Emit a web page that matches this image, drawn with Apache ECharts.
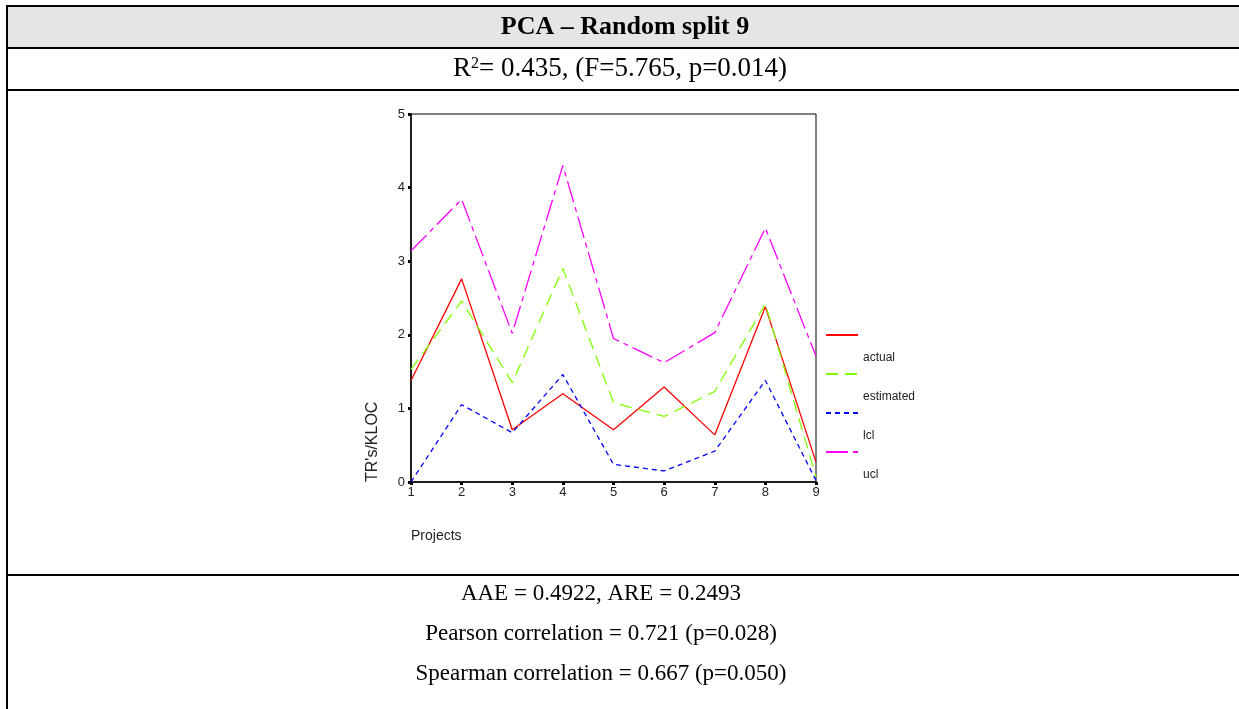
<!DOCTYPE html>
<html>
<head>
<meta charset="utf-8">
<script src="https://cdn.jsdelivr.net/npm/echarts@6/dist/echarts.min.js"></script>
<style>
html, body { margin: 0; padding: 0; background: #fff; }
#main { width: 1239px; height: 709px; }
</style>
</head>
<body>
<div id="main"></div>
<script>
// data
var projects = ['1', '2', '3', '4', '5', '6', '7', '8', '9'];
var actual    = [1.38, 2.76, 0.71, 1.20, 0.71, 1.29, 0.64, 2.38, 0.27];
var estimated = [1.53, 2.46, 1.35, 2.90, 1.08, 0.89, 1.23, 2.42, 0.07];
var lcl       = [0.00, 1.05, 0.67, 1.46, 0.24, 0.15, 0.42, 1.38, 0.02];
var ucl       = [3.14, 3.84, 2.02, 4.30, 1.95, 1.62, 2.03, 3.45, 1.71];
var seriesNames = ['actual', 'estimated', 'lcl', 'ucl'];
var yTicks = [0, 1, 2, 3, 4, 5];

var myChart = echarts.init(document.getElementById('main'));

var serif = '"Liberation Serif", "Times New Roman", serif';
var sans = '"Liberation Sans", Arial, sans-serif';

function hline(y) {
    return { type: 'line', shape: { x1: 6, y1: y, x2: 1239, y2: y }, style: { stroke: '#000', lineWidth: 2 } };
}
function centerText(txt, x, y, font) {
    return { type: 'text', x: x, y: y, style: { text: txt, font: font, fill: '#000', textAlign: 'center', textVerticalAlign: 'middle' } };
}

// one legend per series: line on top, name underneath
var legendIconY = [336, 375, 414, 453];
var legends = seriesNames.map(function (name, i) {
    return {
        orient: 'vertical',
        left: 825,
        top: legendIconY[i] - 47,
        padding: 0,
        itemWidth: 32,
        itemHeight: 2,
        itemStyle: { opacity: 0 },
        formatter: '\n{name}',
        textStyle: { fontFamily: sans, fontSize: 12, color: '#222', lineHeight: 46 },
        selectedMode: false,
        data: [name]
    };
});

var option = {
    animation: false,
    backgroundColor: '#fff',
    graphic: [
        { type: 'rect', shape: { x: 7, y: 6, width: 1232, height: 41 }, style: { fill: '#e5e5e5' }, z: -1 },
        hline(6), hline(48), hline(90), hline(575),
        { type: 'line', shape: { x1: 7, y1: 5, x2: 7, y2: 709 }, style: { stroke: '#000', lineWidth: 2 } },
        centerText('PCA – Random split 9', 625, 27, 'bold 26px ' + serif),
        { type: 'text', x: 620, y: 69, style: {
            text: '{n|R}{s|2}{n|= 0.435, (F=5.765, p=0.014)}',
            textAlign: 'center', textVerticalAlign: 'middle', fill: '#000',
            rich: {
                n: { fontFamily: serif, fontSize: 27, color: '#000' },
                s: { fontFamily: serif, fontSize: 16, color: '#000', verticalAlign: 'top' }
            }
        } },
        centerText('AAE = 0.4922, ARE = 0.2493', 601, 594, '23px ' + serif),
        centerText('Pearson correlation = 0.721 (p=0.028)', 601, 634, '23px ' + serif),
        centerText('Spearman correlation = 0.667 (p=0.050)', 601, 674, '23px ' + serif)
    ],
    legend: legends,
    grid: {
        left: 411,
        top: 114,
        width: 405,
        height: 368,
        show: true,
        borderColor: '#000',
        borderWidth: 1
    },
    xAxis: {
        type: 'category',
        data: projects,
        boundaryGap: false,
        name: 'Projects',
        nameLocation: 'start',
        nameGap: 0,
        nameTextStyle: { fontFamily: sans, fontSize: 14, color: '#222', align: 'left', verticalAlign: 'top', padding: [47, 0, 0, 0] },
        axisLine: { lineStyle: { color: '#000', width: 1.5 } },
        axisTick: { show: true, alignWithLabel: true, length: 3, lineStyle: { color: '#000', width: 3 } },
        axisLabel: { fontFamily: sans, fontSize: 13, color: '#222', margin: 4 },
        splitLine: { show: false }
    },
    yAxis: {
        type: 'value',
        min: 0,
        max: 5,
        interval: 1,
        name: "TR's/KLOC",
        nameLocation: 'start',
        nameRotate: 90,
        nameGap: 0,
        nameTextStyle: { fontFamily: sans, fontSize: 16, color: '#222', align: 'left', verticalAlign: 'bottom', padding: [0, 0, 30, 0] },
        axisLine: { show: true, lineStyle: { color: '#000', width: 1.5 } },
        axisTick: { show: true, length: 3, lineStyle: { color: '#000', width: 3 } },
        axisLabel: { fontFamily: sans, fontSize: 13, color: '#222', margin: 6,
            formatter: function (v) { return yTicks.indexOf(v) >= 0 ? String(v) : ''; } },
        splitLine: { show: false }
    },
    series: [
        {
            name: 'actual',
            type: 'line',
            symbol: 'none',
            color: '#ff0000',
            lineStyle: { color: '#ff0000', width: 1.3, type: 'solid' },
            data: actual
        },
        {
            name: 'estimated',
            type: 'line',
            symbol: 'none',
            color: '#80ff00',
            lineStyle: { color: '#80ff00', width: 1.3, type: [12, 7] },
            data: estimated
        },
        {
            name: 'lcl',
            type: 'line',
            symbol: 'none',
            color: '#0000ff',
            lineStyle: { color: '#0000ff', width: 1.3, type: [5, 4] },
            data: lcl
        },
        {
            name: 'ucl',
            type: 'line',
            symbol: 'none',
            color: '#ff00ff',
            lineStyle: { color: '#ff00ff', width: 1.3, type: [22, 5, 5, 5] },
            data: ucl
        }
    ]
};

myChart.setOption(option);
</script>
</body>
</html>
